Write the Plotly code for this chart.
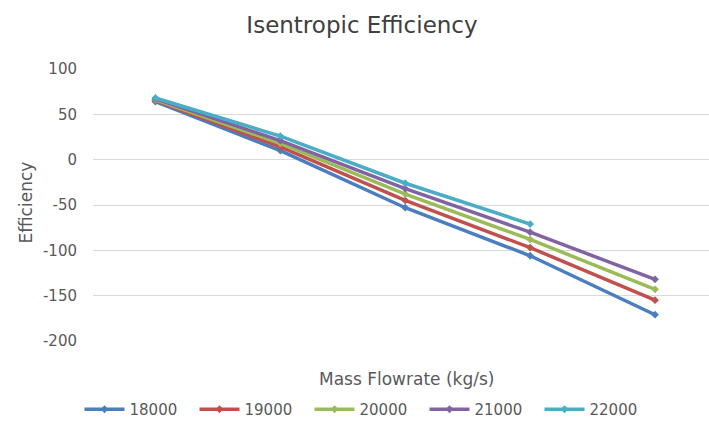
import plotly.graph_objects as go

# Operating points along the x axis (tick labels are not shown)
points = [1, 2, 3, 4, 5]

series_names = ["18000", "19000", "20000", "21000", "22000"]
eff_18000 = [64, 10, -53, -106, -171]
eff_19000 = [65, 14, -45, -97, -155]
eff_20000 = [66, 18, -38, -88, -143]
eff_21000 = [67, 21, -32, -80, -132]
eff_22000 = [68, 26, -26, -71]

y_ticks = [100, 50, 0, -50, -100, -150, -200]

colors = ["#4A7EBF", "#C0504D", "#9BBB59", "#8064A2", "#4BACC6"]
all_series = [eff_18000, eff_19000, eff_20000, eff_21000, eff_22000]

fig = go.Figure()
for name, vals, col in zip(series_names, all_series, colors):
    fig.add_trace(go.Scatter(
        x=points[:len(vals)], y=vals, name=name, mode="lines+markers",
        line=dict(color=col, width=3.5),
        marker=dict(color=col, size=6, symbol="diamond"),
    ))

W, H = 709, 426
left, top, bottom = 92.5, 69, 83
plot_w = W - left
plot_h = H - top - bottom
spacing = 125.0
# first point sits half a step inside the left edge; the right side runs off the page
x_lo = 1 - (155 - left) / spacing
x_hi = x_lo + plot_w / spacing

grey = "#595959"
FONT = "DejaVu Sans, sans-serif"
fig.update_layout(
    width=W, height=H,
    margin=dict(l=left, r=0, t=top, b=bottom, pad=0),
    paper_bgcolor="white", plot_bgcolor="white",
    font=dict(family=FONT, color=grey),
    title=dict(text="Isentropic Efficiency", x=362 / W, xanchor="center",
               y=1 - 25 / H, yanchor="middle",
               font=dict(size=23, color="#404040", family=FONT)),
    xaxis=dict(range=[x_lo, x_hi], showticklabels=False, showgrid=False,
               zeroline=False, showline=False, ticks=""),
    yaxis=dict(range=[-200, 100], tickvals=y_ticks,
               ticktext=[str(v) for v in y_ticks],
               showgrid=True, gridcolor="#D9D9D9", gridwidth=1,
               zeroline=False, showline=False, ticks="",
               ticklabelstandoff=15,
               tickfont=dict(size=15, color=grey, family=FONT)),
    showlegend=True,
    legend=dict(orientation="h", x=(79 - left) / plot_w, xanchor="left",
                y=-(412 - (top + plot_h)) / plot_h, yanchor="middle",
                font=dict(size=15, color=grey, family=FONT),
                entrywidth=60, entrywidthmode="pixels",
                itemwidth=40, tracegroupgap=0,
                bgcolor="rgba(0,0,0,0)"),
    annotations=[
        dict(text="Mass Flowrate (kg/s)", xref="paper", yref="paper",
             x=(406 - left) / plot_w, y=-(381 - (top + plot_h)) / plot_h,
             xanchor="center", yanchor="middle", showarrow=False,
             font=dict(size=17, color=grey, family=FONT)),
        dict(text="Efficiency", xref="paper", yref="paper",
             x=(25 - left) / plot_w, y=(H - bottom - 204) / plot_h,
             xanchor="center", yanchor="middle", showarrow=False,
             textangle=-90, font=dict(size=17, color=grey, family=FONT)),
    ],
)

fig.write_html("out.html")
